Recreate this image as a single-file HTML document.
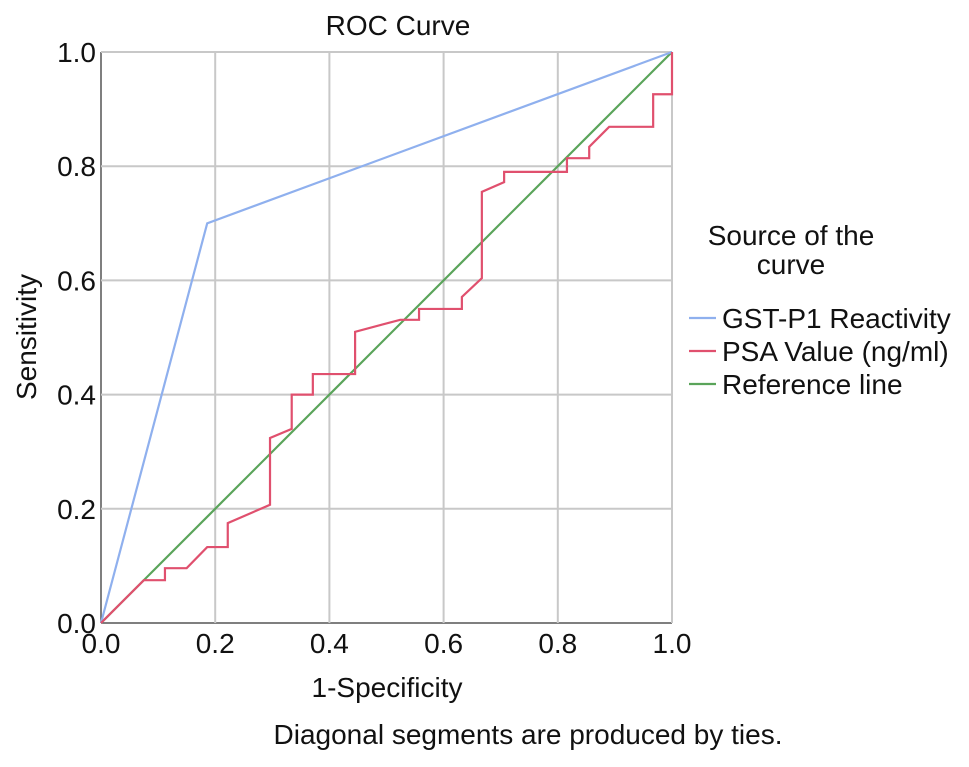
<!DOCTYPE html>
<html><head><meta charset="utf-8"><style>
body{margin:0;background:#fff;}
svg text{font-family:"Liberation Sans",Arial,sans-serif;fill:#111;}
</style></head><body>
<svg id="chart" width="969" height="762" viewBox="0 0 969 762" xmlns="http://www.w3.org/2000/svg">
<text x="398" y="35" font-size="28" text-anchor="middle">ROC Curve</text>
<g id="grid"></g>
<g id="ticks"></g>
<g id="series"></g>
<text x="387" y="697" font-size="28" text-anchor="middle">1-Specificity</text>
<text transform="translate(36,337) rotate(-90)" font-size="28" text-anchor="middle">Sensitivity</text>
<text x="528" y="744" font-size="28" text-anchor="middle">Diagonal segments are produced by ties.</text>
<g>
<text x="791" y="245" font-size="28" text-anchor="middle">Source of the</text>
<text x="791" y="274" font-size="28" text-anchor="middle">curve</text>
<line x1="689" y1="318" x2="716" y2="318" stroke="#8fb0ee" stroke-width="2.2"/>
<text x="722" y="328" font-size="28">GST-P1 Reactivity</text>
<line x1="689" y1="351" x2="716" y2="351" stroke="#e0506e" stroke-width="2.2"/>
<text x="722" y="361" font-size="28">PSA Value (ng/ml)</text>
<line x1="689" y1="384" x2="716" y2="384" stroke="#5aa45a" stroke-width="2.2"/>
<text x="722" y="394" font-size="28">Reference line</text>
</g>
</svg>
<script>
const ticks=[0,0.2,0.4,0.6,0.8,1.0];
const tickLabels=["0.0","0.2","0.4","0.6","0.8","1.0"];
const gstX=[0,0.186,1];
const gstY=[0,0.70,1];
const psaX=[0,0.075,0.112,0.112,0.15,0.186,0.222,0.222,0.296,0.296,0.334,0.334,0.371,0.371,0.445,0.445,0.524,0.557,0.557,0.632,0.632,0.667,0.667,0.706,0.706,0.816,0.816,0.855,0.855,0.89,0.967,0.967,1.0,1.0];
const psaY=[0,0.075,0.075,0.096,0.096,0.133,0.133,0.175,0.207,0.324,0.34,0.40,0.40,0.436,0.436,0.51,0.531,0.531,0.55,0.55,0.571,0.604,0.755,0.772,0.79,0.79,0.814,0.814,0.834,0.869,0.869,0.926,0.926,1.0];
const refX=[0,1];
const refY=[0,1];
const X0=101,X1=672,Y0=623,Y1=52;
const sx=v=>X0+(X1-X0)*v, sy=v=>Y0-(Y0-Y1)*v;
const NS="http://www.w3.org/2000/svg";
const grid=document.getElementById('grid'),tg=document.getElementById('ticks'),sg=document.getElementById('series');
ticks.forEach((t,i)=>{
 const v=document.createElementNS(NS,'line');
 
 
 v.setAttribute('x1',sx(t));v.setAttribute('x2',sx(t));v.setAttribute('y1',Y1);v.setAttribute('y2',Y0);
 v.setAttribute('stroke',i==0?'#555':'#c8c8c8');v.setAttribute('stroke-width',i==0?1.5:2);grid.appendChild(v);
 const h=document.createElementNS(NS,'line');
 
 
 h.setAttribute('x1',X0);h.setAttribute('x2',X1);h.setAttribute('y1',sy(t));h.setAttribute('y2',sy(t));
 h.setAttribute('stroke',i==0?'#555':'#c8c8c8');h.setAttribute('stroke-width',i==0?1.5:2);grid.appendChild(h);
 const xl=document.createElementNS(NS,'text');
 
 
 xl.setAttribute('x',sx(t));xl.setAttribute('y',Y0+30);xl.setAttribute('font-size','28');xl.setAttribute('text-anchor','middle');xl.textContent=tickLabels[i];tg.appendChild(xl);
 const yl=document.createElementNS(NS,'text');
 
 
 yl.setAttribute('x',X0-5);yl.setAttribute('y',sy(t)+10);yl.setAttribute('font-size','28');yl.setAttribute('text-anchor','end');yl.textContent=tickLabels[i];tg.appendChild(yl);
});
function line(xs,ys,color,name){
 const p=document.createElementNS(NS,'polyline');
 
 
 p.setAttribute('points',xs.map((x,i)=>sx(x)+','+sy(ys[i])).join(' '));
 p.setAttribute('fill','none');p.setAttribute('stroke',color);p.setAttribute('stroke-width','2.2');
 sg.appendChild(p);
}
line(refX,refY,'#5aa45a','reference-line');
line(gstX,gstY,'#8fb0ee','gst-p1-curve');
line(psaX,psaY,'#e0506e','psa-curve');
</script>
</body></html>
